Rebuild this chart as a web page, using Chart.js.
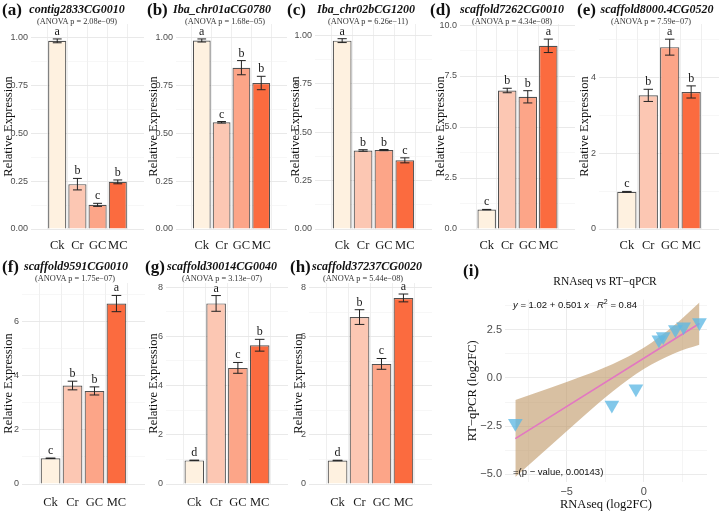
<!DOCTYPE html>
<html>
<head>
<meta charset="utf-8">
<script src="https://cdn.jsdelivr.net/npm/chart.js@4.4.1/dist/chart.umd.min.js"></script>
<style>
  body { margin: 0; background: #fff; }
  #wrap { position: relative; width: 721px; height: 512px; overflow: hidden; font-family: "Liberation Serif", serif; color: #111; }
  #wrap canvas { position: absolute; }
  .txt { position: absolute; white-space: nowrap; line-height: 1; }
</style>
</head>
<body>
<div id="wrap"></div>
<script>
// data
const groups = ['Ck', 'Cr', 'GC', 'MC'];
const panelTags = ['(a)', '(b)', '(c)', '(d)', '(e)', '(f)', '(g)', '(h)'];
const geneNames = ['contig2833CG0010', 'Iba_chr01aCG0780', 'Iba_chr02bCG1200', 'scaffold7262CG0010',
  'scaffold8000.4CG0520', 'scaffold9591CG0010', 'scaffold30014CG0040', 'scaffold37237CG0020'];
const anovaP = ['2.08e\u221209', '1.68e\u221205', '6.26e\u221211', '4.34e\u221208',
  '7.59e\u221207', '1.75e\u221207', '3.13e\u221207', '5.44e\u221208'];
const meanExpr = [
  [0.982, 0.234, 0.126, 0.246],
  [0.984, 0.557, 0.842, 0.762],
  [0.974, 0.406, 0.408, 0.355],
  [0.95, 6.79, 6.48, 8.98],
  [0.98, 3.52, 4.79, 3.61],
  [0.95, 3.64, 3.44, 6.67],
  [0.96, 7.34, 4.72, 5.64],
  [0.96, 6.81, 4.90, 7.59]
];
const seExpr = [
  [0.01, 0.03, 0.008, 0.01],
  [0.008, 0.004, 0.037, 0.035],
  [0.01, 0.004, 0.003, 0.013],
  [0.01, 0.11, 0.30, 0.33],
  [0.01, 0.16, 0.21, 0.16],
  [0.01, 0.16, 0.15, 0.30],
  [0.01, 0.32, 0.22, 0.24],
  [0.01, 0.30, 0.22, 0.16]
];
const sigLetters = [
  ['a', 'b', 'c', 'b'],
  ['a', 'c', 'b', 'b'],
  ['a', 'b', 'b', 'c'],
  ['c', 'b', 'b', 'a'],
  ['c', 'b', 'a', 'b'],
  ['c', 'b', 'b', 'a'],
  ['d', 'a', 'c', 'b'],
  ['d', 'b', 'c', 'a']
];
const yMax = [1.07, 1.07, 1.06, 10.05, 5.4, 7.43, 8.17, 8.2];
const yMinorStep = [0.125, 0.125, 0.125, 1.25, 1, 1, 1, 1];
const yDigits = [2, 2, 2, 1, 0, 0, 0, 0];

// scatter (i)
const rnaseqFC = [-8.33, -2.07, -0.51, 0.98, 1.26, 2.05, 2.58, 3.61];
const qpcrFC = [-2.35, -1.40, -0.56, 1.98, 2.15, 2.52, 2.66, 2.88];
const fitX = [-8.33, 3.61];
const fitY = [-3.15, 2.83];
const bandX = [-8.33, -6, -4, -2, 0, 2, 3.61];
const bandLo = [-5.14, -3.48, -2.05, -0.69, 0.47, 1.29, 1.72];
const bandHi = [-1.14, -0.50, 0.09, 0.73, 1.57, 2.75, 3.92];

// layout: [left, top, width, height, plotLeft, plotRight, padTop, xAxisH]
const boxes = [
  [1, 0, 144, 258, 31, 144, 24, 29],
  [146, 0, 144, 258, 176, 287, 24, 29],
  [288, 0, 146, 258, 315, 432, 24, 29],
  [433, 0, 144, 258, 460, 575, 24, 29],
  [577, 0, 144, 258, 599, 719, 24, 29],
  [1, 258, 146, 254, 22, 145, 25, 28],
  [146, 258, 144, 254, 166, 288, 25, 28],
  [291, 258, 143, 254, 309, 432, 25, 28]
];
const titleX = [77, 222, 366, 512, 657, 76, 222, 367];
const anovaX = [77, 225, 368, 512, 651, 75, 222, 363];
const tagX = [2, 147, 287, 430, 577, 2, 145, 290];

const barColors = ['#FEF1E0', '#FCC7B3', '#FCA588', '#FB6B3F'];
const wrap = document.getElementById('wrap');

function addText(html, x, y, css, center) {
  const d = document.createElement('div');
  d.className = 'txt';
  d.innerHTML = html;
  d.style.cssText += css;
  d.style.left = x + 'px';
  d.style.top = y + 'px';
  d.style.transform = center ? 'translate(-50%,-50%)' : 'translateY(-50%)';
  wrap.appendChild(d);
}

function addCanvas(l, t, w, h) {
  const cv = document.createElement('canvas');
  cv.width = w; cv.height = h;
  cv.style.left = l + 'px'; cv.style.top = t + 'px';
  cv.style.width = w + 'px'; cv.style.height = h + 'px';
  wrap.appendChild(cv);
  return cv;
}

const isMajor = (v, step) => Math.abs(v / (2 * step) - Math.round(v / (2 * step))) < 1e-6;

// error bars + letters drawn through the chart scales
const errorBars = {
  id: 'errorBars',
  afterDatasetsDraw(chart, args, opts) {
    const {ctx, scales: {x, y}} = chart;
    ctx.save();
    ctx.strokeStyle = '#222';
    ctx.lineWidth = 1;
    ctx.fillStyle = '#1a1a1a';
    ctx.font = '12px "Liberation Serif"';
    ctx.textAlign = 'center';
    opts.means.forEach((m, k) => {
      const px = x.getPixelForValue(k + 1);
      const x0 = x.getPixelForValue(k + 0.78), x1 = x.getPixelForValue(k + 1.22);
      const yt = y.getPixelForValue(m + opts.errs[k]);
      const yb = y.getPixelForValue(m - opts.errs[k]);
      ctx.beginPath();
      ctx.moveTo(px, yt); ctx.lineTo(px, yb);
      ctx.moveTo(x0, yt); ctx.lineTo(x1, yt);
      ctx.moveTo(x0, yb); ctx.lineTo(x1, yb);
      ctx.stroke();
      ctx.fillText(opts.letters[k], px, yt - 4);
    });
    ctx.restore();
  }
};

function barPanel(i) {
  const [l, t, w, h, pl, pr, padTop, xh] = boxes[i];
  const step = yMinorStep[i];
  const cv = addCanvas(l, t, w, h);
  new Chart(cv, {
    type: 'bar',
    data: {
      datasets: [{
        data: meanExpr[i].map((v, k) => ({x: k + 1, y: v})),
        backgroundColor: barColors,
        borderColor: 'rgba(50,50,50,0.85)',
        borderWidth: 1.2,
        barPercentage: 0.9,
        categoryPercentage: 1
      }]
    },
    options: {
      responsive: false,
      animation: false,
      layout: {padding: {top: padTop, right: l + w - pr, left: 0, bottom: 0}},
      plugins: {
        legend: {display: false},
        tooltip: {enabled: false},
        errorBars: {means: meanExpr[i], errs: seExpr[i], letters: sigLetters[i]}
      },
      scales: {
        x: {
          type: 'linear', min: 0.4, max: 4.6,
          afterBuildTicks: s => { s.ticks = [1, 2, 3, 4].map(v => ({value: v})); },
          afterFit: s => { s.height = xh; },
          ticks: {autoSkip: false, callback: v => groups[v - 1], font: {family: 'Liberation Serif', size: 12.5}, color: '#1a1a1a', padding: t === 0 ? 9 : 11},
          grid: {color: '#EBEBEB', lineWidth: 0.8, drawTicks: false},
          border: {display: false}
        },
        y: {
          min: 0, max: yMax[i],
          afterBuildTicks: s => {
            const tk = [];
            for (let v = 0; v <= yMax[i] + 1e-9; v += step) tk.push({value: +v.toFixed(4)});
            s.ticks = tk;
          },
          afterFit: s => { s.width = pl - l; },
          ticks: {
            autoSkip: false, padding: 3,
            callback: v => isMajor(v, step) ? v.toFixed(yDigits[i]) : '',
            font: {family: 'Liberation Sans', size: 9}, color: '#4D4D4D'
          },
          grid: {
            color: c => isMajor(c.tick.value, step) ? '#E6E6E6' : '#F2F2F2',
            lineWidth: c => isMajor(c.tick.value, step) ? 0.9 : 0.6,
            drawTicks: false
          },
          border: {display: false},
          title: {display: true, text: 'Relative Expression', font: {family: 'Liberation Serif', size: 12.5}, color: '#111', padding: 0}
        }
      }
    },
    plugins: [errorBars]
  });

  const rowY = t === 0 ? 9 : 266;
  addText(panelTags[i], tagX[i], rowY, 'font-weight:bold;font-size:17px;', false);
  addText(geneNames[i], titleX[i], rowY, 'font-weight:bold;font-style:italic;font-size:12px;', true);
  addText('(ANOVA p = ' + anovaP[i] + ')', anovaX[i], rowY + 12.5, 'font-size:8.3px;color:#333;', true);
}

for (let i = 0; i < 8; i++) barPanel(i);

// (i) RNAseq vs RT-qPCR
const sc = addCanvas(462, 290, 259, 222);
const xMinor = [-7.5, -5, -2.5, 0, 2.5];
const yMinor = [-5, -3.75, -2.5, -1.25, 0, 1.25, 2.5, 3.75];
const fmtMinus = s => s.replace('-', '\u2212');
new Chart(sc, {
  type: 'scatter',
  data: {
    datasets: [
      {
        data: rnaseqFC.map((v, k) => ({x: v, y: qpcrFC[k]})),
        pointStyle: 'triangle', rotation: 180, radius: 8.5,
        backgroundColor: 'rgba(95,185,228,0.78)', borderWidth: 0
      },
      {
        data: fitX.map((v, k) => ({x: v, y: fitY[k]})),
        showLine: true, borderColor: '#E377C2', borderWidth: 1.6, pointRadius: 0
      },
      {
        data: bandX.map((v, k) => ({x: v, y: bandLo[k]})),
        showLine: true, borderWidth: 0, pointRadius: 0, cubicInterpolationMode: 'monotone'
      },
      {
        data: bandX.map((v, k) => ({x: v, y: bandHi[k]})),
        showLine: true, borderWidth: 0, pointRadius: 0, cubicInterpolationMode: 'monotone',
        fill: '-1', backgroundColor: 'rgba(190,150,100,0.6)'
      }
    ]
  },
  options: {
    responsive: false,
    animation: false,
    layout: {padding: {top: 5, right: 14, left: 0, bottom: 0}},
    plugins: {legend: {display: false}, tooltip: {enabled: false}},
    scales: {
      x: {
        type: 'linear', min: -9, max: 4.1,
        afterBuildTicks: s => { s.ticks = xMinor.map(v => ({value: v})); },
        afterFit: s => { s.height = 30; },
        ticks: {autoSkip: false, padding: 3, callback: v => (v === -5 || v === 0) ? fmtMinus(String(v)) : '',
          font: {family: 'Liberation Sans', size: 11}, color: '#4D4D4D'},
        grid: {color: c => (c.tick.value === -5 || c.tick.value === 0) ? '#E6E6E6' : '#F2F2F2', lineWidth: 0.8, drawTicks: false},
        border: {display: false},
        title: {display: true, text: 'RNAseq (log2FC)', font: {family: 'Liberation Serif', size: 12.5}, color: '#111', padding: 0}
      },
      y: {
        min: -5.4, max: 4.07,
        afterBuildTicks: s => { s.ticks = yMinor.map(v => ({value: v})); },
        afterFit: s => { s.width = 43; },
        ticks: {autoSkip: false, padding: 3, callback: v => isMajor(v, 1.25) ? fmtMinus(v.toFixed(1)) : '',
          font: {family: 'Liberation Sans', size: 11}, color: '#4D4D4D'},
        grid: {color: c => isMajor(c.tick.value, 1.25) ? '#E6E6E6' : '#F2F2F2', lineWidth: 0.8, drawTicks: false},
        border: {display: false},
        title: {display: true, text: 'RT\u2212qPCR (log2FC)', font: {family: 'Liberation Serif', size: 12.5}, color: '#111', padding: {top: 3}}
      }
    }
  }
});

addText('(i)', 463, 270, 'font-weight:bold;font-size:17px;', false);
addText('RNAseq vs RT\u2212qPCR', 605, 282, 'font-size:11.5px;', true);
addText('<i>y</i> = 1.02 + 0.501 <i>x</i>&nbsp;&nbsp;&nbsp;<i>R</i><sup style="font-size:7px">2</sup> = 0.84', 513, 304,
  'font-family:"Liberation Sans",sans-serif;font-size:9.5px;', false);
addText('=(p \u2212 value, 0.00143)', 513, 472, 'font-family:"Liberation Sans",sans-serif;font-size:9.5px;', false);
</script>
</body>
</html>
